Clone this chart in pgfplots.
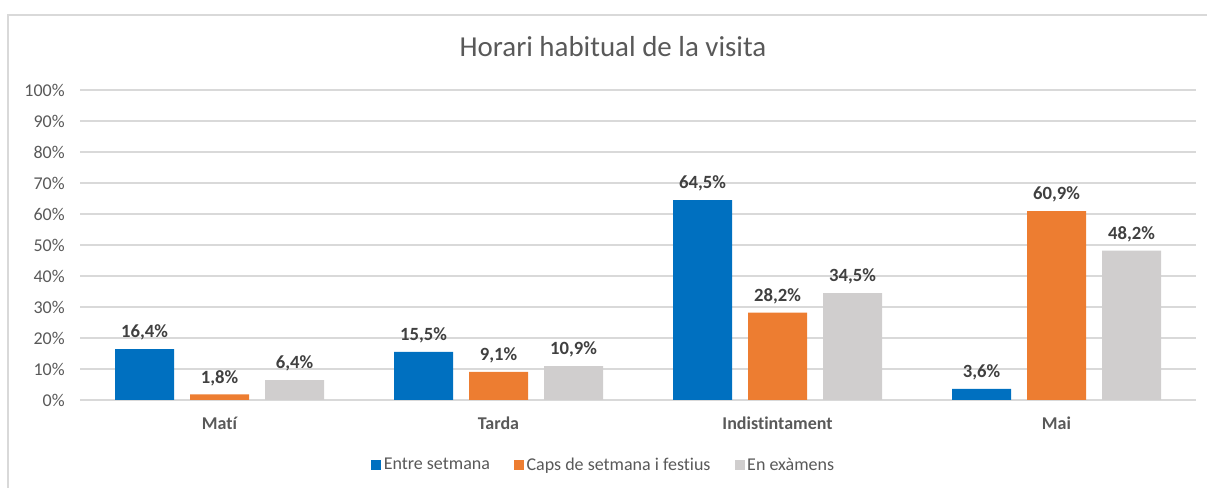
\documentclass[border=0pt]{standalone}
\usepackage{pgfplots}
\pgfplotsset{compat=1.18}
\usepackage{fontspec}
\setmainfont{Carlito}[Ligatures=NoCommon]
\definecolor{cblue}{HTML}{0070C0}
\definecolor{corange}{HTML}{ED7D31}
\definecolor{cgray}{HTML}{D0CECE}
\definecolor{txt}{HTML}{595959}
\definecolor{lbl}{HTML}{404040}
\definecolor{gridc}{HTML}{D9D9D9}
\begin{document}
\begin{tikzpicture}
\useasboundingbox (0,0) rectangle (905.25pt,366pt);
\draw[gridc, line width=1pt] (6pt,0) -- (6pt,354.75pt) -- (905.25pt,354.75pt);
\node[txt, font=\fontsize{21.7}{26}\selectfont] at (459.75pt,330.75pt) {Horari habitual de la visita};
\begin{axis}[
  at={(60pt,66pt)}, anchor=south west,
  scale only axis, width=837pt, height=232.5pt,
  xmin=-0.5, xmax=3.5, ymin=0, ymax=100,
  ytick={0,10,...,100},
  xtick={0,1,2,3},
  xticklabels={Matí,Tarda,Indistintament,Mai},
  axis line style={draw=none},
  major tick length=0pt,
  xmajorgrids=false, ymajorgrids=true,
  grid style={draw=gridc, line width=1.1pt},
  /pgf/number format/assume math mode=true,
  yticklabel={\pgfmathprintnumber{\tick}\%},
  yticklabel style={txt, font=\fontsize{13.5}{16}\selectfont, xshift=-8pt},
  xticklabel style={txt, font=\bfseries\fontsize{13.5}{16}\selectfont, yshift=-9pt},
  ybar=12pt, bar width=44.25pt,
  clip=false,
  nodes near coords={\pgfmathprintnumber[fixed,fixed zerofill,precision=1,use comma]{\pgfplotspointmeta}\%},
  nodes near coords style={lbl, font=\bfseries\fontsize{14}{16}\selectfont, yshift=3pt},
  legend columns=-1,
  legend style={draw=none, at={(0.4695,-0.2097)}, anchor=center, font=\fontsize{13.5}{16}\selectfont, text=txt,
    /tikz/every even column/.append style={column sep=16pt}},
  legend image code/.code={\fill[#1] (0pt,-3.75pt) rectangle (7.5pt,3.75pt);},
]
\addplot[fill=cblue, draw=none] coordinates {(0,16.4) (1,15.5) (2,64.5) (3,3.6)};
\addplot[fill=corange, draw=none] coordinates {(0,1.8) (1,9.1) (2,28.2) (3,60.9)};
\addplot[fill=cgray, draw=none] coordinates {(0,6.4) (1,10.9) (2,34.5) (3,48.2)};
\legend{Entre setmana, Caps de setmana i festius, En exàmens}
\end{axis}
\end{tikzpicture}
\end{document}
